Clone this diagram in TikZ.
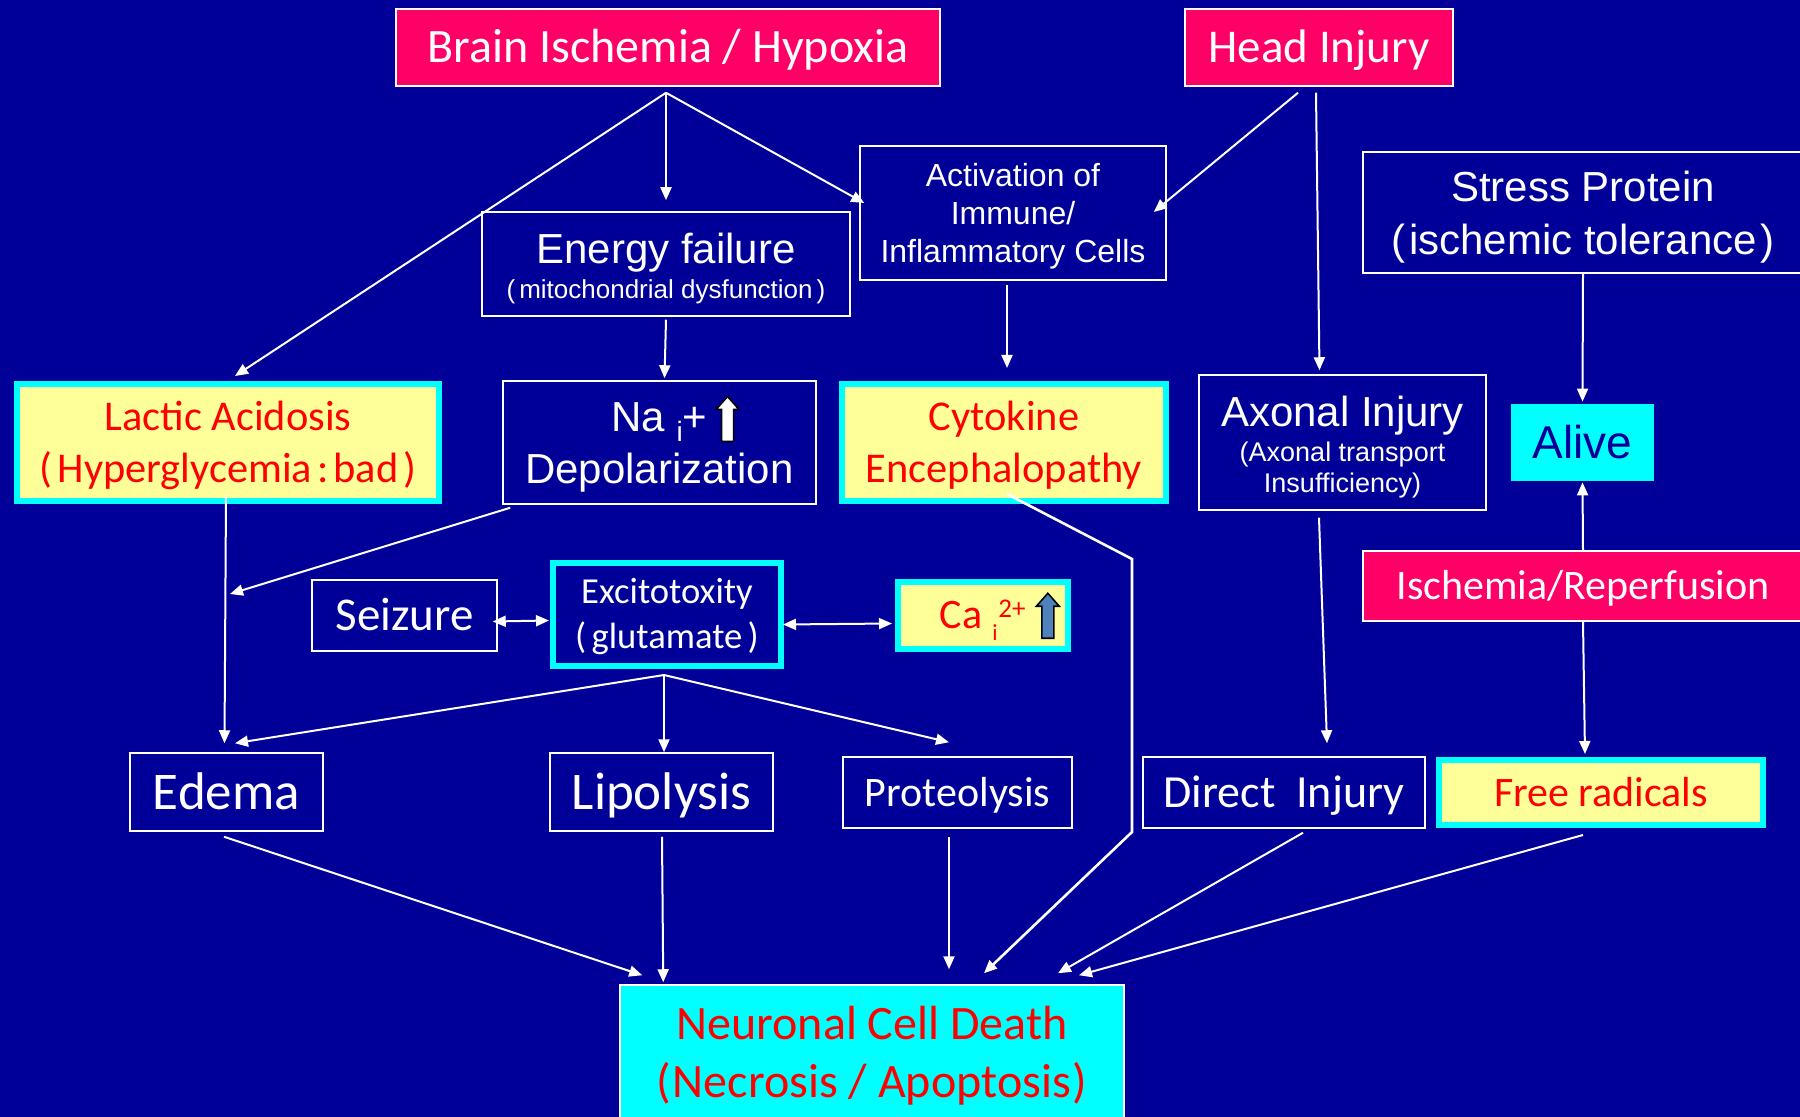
\documentclass[tikz,border=0pt]{standalone}
\usepackage{fontspec}
\usetikzlibrary{arrows.meta,calc}
\newfontfamily\fcal{Carlito}
\newfontfamily\fari{Liberation Sans}
\definecolor{bgnavy}{RGB}{0,0,153}
\definecolor{pinkred}{RGB}{255,0,102}
\definecolor{paleyel}{RGB}{255,255,153}
\definecolor{cyanb}{RGB}{0,255,255}
\definecolor{redtxt}{RGB}{255,0,0}
\definecolor{arrblue}{RGB}{79,129,189}
\newcommand\blockup[1]{\tikz[baseline=0pt,x=1pt,y=1pt]\draw[draw=black,line width=0.8pt,fill=#1,line join=miter] (-3,-5) -- (3,-5) -- (3,11) -- (5.75,11) -- (0,17.5) -- (-5.75,11) -- (-3,11) -- cycle;}
% struts: top of first line (Carlito / Arial), bottom of last line
\newcommand\tpc{\rule{0pt}{0.894em}}
\newcommand\tpa{\rule{0pt}{0.966em}}
\newcommand\btm{\rule[-0.25em]{0pt}{0.25em}}
\tikzset{
  box/.style={draw=white, line width=0.75pt, fill=bgnavy, text=white, inner sep=0pt, align=center},
  pinkbox/.style={box, fill=pinkred},
  yelbox/.style={draw=cyanb, line width=3pt, fill=paleyel, text=redtxt, inner sep=0pt, align=center},
  cyanframe/.style={draw=cyanb, line width=3pt, fill=bgnavy, text=white, inner sep=0pt, align=center},
  alivebox/.style={fill=cyanb, text=bgnavy, inner sep=0pt, align=center},
  neurobox/.style={draw=white, line width=0.75pt, fill=cyanb, text=redtxt, inner sep=0pt, align=center},
  wh/.style 2 args={minimum width=#1*0.5pt, minimum height=#2*0.5pt},
  arr/.style={draw=white, line width=1pt, -{Triangle[length=6.5pt,width=5.5pt]}},
  darr/.style={draw=white, line width=1pt, {Triangle[length=6.5pt,width=5.5pt]}-{Triangle[length=6.5pt,width=5.5pt]}},
}
\begin{document}
\begin{tikzpicture}[x=0.5pt,y=-0.5pt]
\fill[bgnavy] (0,0) rectangle (1800,1117);
\useasboundingbox (0,0) rectangle (1800,1117);

% top row
\node[pinkbox, wh={544}{77}, font=\fcal\fontsize{24}{28}\selectfont] (brain) at (668,47.5) {\tpc Brain Ischemia / Hypoxia\btm};
\node[pinkbox, wh={268}{77}, font=\fcal\fontsize{23.5}{28}\selectfont] (head) at (1319,47.5) {\tpc Head Injury\btm};

% second row
\node[box, wh={306}{134}, font=\fari\fontsize{16}{19}\selectfont] (activ) at (1013,213) {\tpa Activation of\\Immune/\\Inflammatory Cells\btm};
\node[box, wh={368}{104}, font=\fari\fontsize{13}{17.5}\selectfont] (energy) at (666,264) {{\fontsize{21}{21}\selectfont\tpa Energy failure}\\(\hspace{2pt}mitochondrial dysfunction\hspace{2pt})\btm};
\node[box, wh={440}{121}, font=\fari\fontsize{21}{26.5}\selectfont] (stress) at (1583,212.5) {\tpa Stress Protein\\(\hspace{2pt}ischemic tolerance\hspace{2pt})\btm};

% third row
\node[yelbox, wh={422}{117}, font=\fcal\fontsize{21.2}{26}\selectfont] (lactic) at (228,442.5) {\tpc Lactic Acidosis\\(\hspace{2.5pt}Hyperglycemia\hspace{2.5pt}:\hspace{2.5pt}bad\hspace{2.5pt})\btm};
\node[box, wh={313}{123}, font=\fari\fontsize{21}{26}\selectfont] (na) at (659.5,442.5) {\tpa\hspace*{16pt}Na {\fontsize{14}{14}\selectfont\raisebox{-5pt}{i}}+\hspace{4pt}\blockup{white}\\Depolarization\btm};
\node[yelbox, wh={324}{117}, font=\fcal\fontsize{21.2}{26}\selectfont] (cyto) at (1004,442.5) {\tpc Cytokine\\Encephalopathy\btm};
\node[box, wh={287}{135}, font=\fari\fontsize{13.5}{15.5}\selectfont] (axonal) at (1342.5,442.5) {{\fontsize{21}{21}\selectfont\tpa Axonal Injury}\\[2.2pt](Axonal transport\\Insufficiency)\btm};
\node[alivebox, wh={143}{77}, font=\fari\fontsize{23}{27}\selectfont] (alive) at (1582.5,442.5) {\tpa Alive\btm};
\node[pinkbox, wh={440}{70}, font=\fcal\fontsize{21}{25}\selectfont] (isch) at (1583,586) {\tpc Ischemia/Reperfusion\btm};

% fourth row
\node[box, wh={185}{71}, font=\fcal\fontsize{23.5}{28}\selectfont] (seizure) at (404.5,615.5) {\tpc Seizure\btm};
\node[cyanframe, wh={228}{103}, font=\fcal\fontsize{18.3}{22.4}\selectfont] (excito) at (667,614.5) {\tpc Excitotoxity\\(\hspace{2.7pt}glutamate\hspace{2.7pt})\btm};
\node[yelbox, wh={170}{67}, font=\fcal\fontsize{21}{25}\selectfont] (ca) at (983,615.5) {\tpc\hspace*{17pt}Ca\hspace{5pt}\rlap{\raisebox{-6pt}{\fontsize{11.5}{11.5}\selectfont i}}\hspace{3pt}\raisebox{5.5pt}{\fontsize{13.5}{13.5}\selectfont 2+}\hspace{5pt}\blockup{arrblue}\btm};

% fifth row
\node[box, wh={193}{78}, font=\fcal\fontsize{26.5}{31}\selectfont] (edema) at (226.5,792) {\tpc Edema\btm};
\node[box, wh={223}{78}, font=\fcal\fontsize{26.5}{31}\selectfont] (lipo) at (661.5,792) {\tpc Lipolysis\btm};
\node[box, wh={229}{71}, font=\fcal\fontsize{21}{25}\selectfont] (proteo) at (957.5,792.5) {\tpc Proteolysis\btm};
\node[box, wh={282}{71}, font=\fcal\fontsize{23}{27}\selectfont] (direct) at (1284,792.5) {\tpc Direct\ \ Injury\btm};
\node[yelbox, wh={324}{65}, font=\fcal\fontsize{21}{25}\selectfont] (free) at (1601,792.5) {\tpc Free radicals\btm};

% bottom
\node[neurobox, wh={504}{137}, font=\fcal\fontsize{24}{29}\selectfont] (neuro) at (872,1053.5) {\tpc Neuronal Cell Death\\(\hspace{1pt}Necrosis / Apoptosis\hspace{1pt})\btm};

% connectors
\coordinate (bs) at ($(brain.south)+(-2,6)$);
\draw[arr] (bs) -- ($(lactic.north)+(7,-5)$);
\draw[arr] (bs) -- ($(energy.north)+(0,-11)$);
\draw[arr] (bs) -- ($(activ.west)+(5,-10)$);
\draw[arr] ($(head.south)+(-21,6)$) -- ($(activ.east)+(-13,-1)$);
\draw[arr] ($(head.south)+(-3,6)$) -- ($(axonal.north)+(-23,-4)$);
\draw[arr] ($(activ.south)+(-6,4)$) -- ($(cyto.north)+(3,-13)$);
\draw[arr] ($(energy.south)+(0,3)$) -- ($(na.north)+(5,-2)$);
\draw[arr] (stress.south) -- ($(alive.north)+(0,-2)$);
\draw[arr] (isch.north) -- ($(alive.south)+(0,1)$);
\draw[arr] (isch.south) -- ($(free.north)+(-16,-3)$);
\coordinate (nae) at ($(lactic.south)+(2,90)$);
\draw[arr] ($(na.south west)+(8,3)$) -- (nae);
\draw[arr] ($(lactic.south)+(-2,-9)$) -- ($(edema.north)+(-2,-9)$);
\draw[darr] ($(seizure.east)+(-5,6)$) -- ($(excito.west)+(-1,6)$);
\draw[darr] ($(excito.east)+(-1,10)$) -- ($(ca.west)+(-3,8)$);
\coordinate (es) at ($(excito.south)+(-3,6)$);
\draw[arr] (es) -- ($(edema.north)+(8.5,-9)$);
\draw[arr] (es) -- ($(lipo.north)+(2.5,0)$);
\draw[arr] (es) -- ($(proteo.north)+(-8.5,-14)$);
\coordinate (c1) at (1132,559);
\coordinate (c2) at (1132,832);
\draw[arr, line width=1.3pt] ($(cyto.south)+(3,-10)$) -- (c1) -- (c2) -- ($(neuro.north)+(112,-11)$);
\draw[arr] ($(edema.south)+(-2.5,5)$) -- ($(neuro.north west)+(23,-9)$);
\draw[arr] ($(lipo.south)+(0.5,5)$) -- ($(neuro.north west)+(44,-2)$);
\draw[arr] ($(proteo.south)+(-8.5,8)$) -- ($(neuro.north)+(77,-15)$);
\draw[arr] ($(axonal.south)+(-23.5,7)$) -- ($(direct.north)+(43,-13)$);
\draw[arr] ($(direct.south)+(19,4)$) -- ($(neuro.north)+(186,-11)$);
\draw[arr] ($(free.south)+(-18,7)$) -- ($(neuro.north)+(207,-9)$);
\end{tikzpicture}
\end{document}
